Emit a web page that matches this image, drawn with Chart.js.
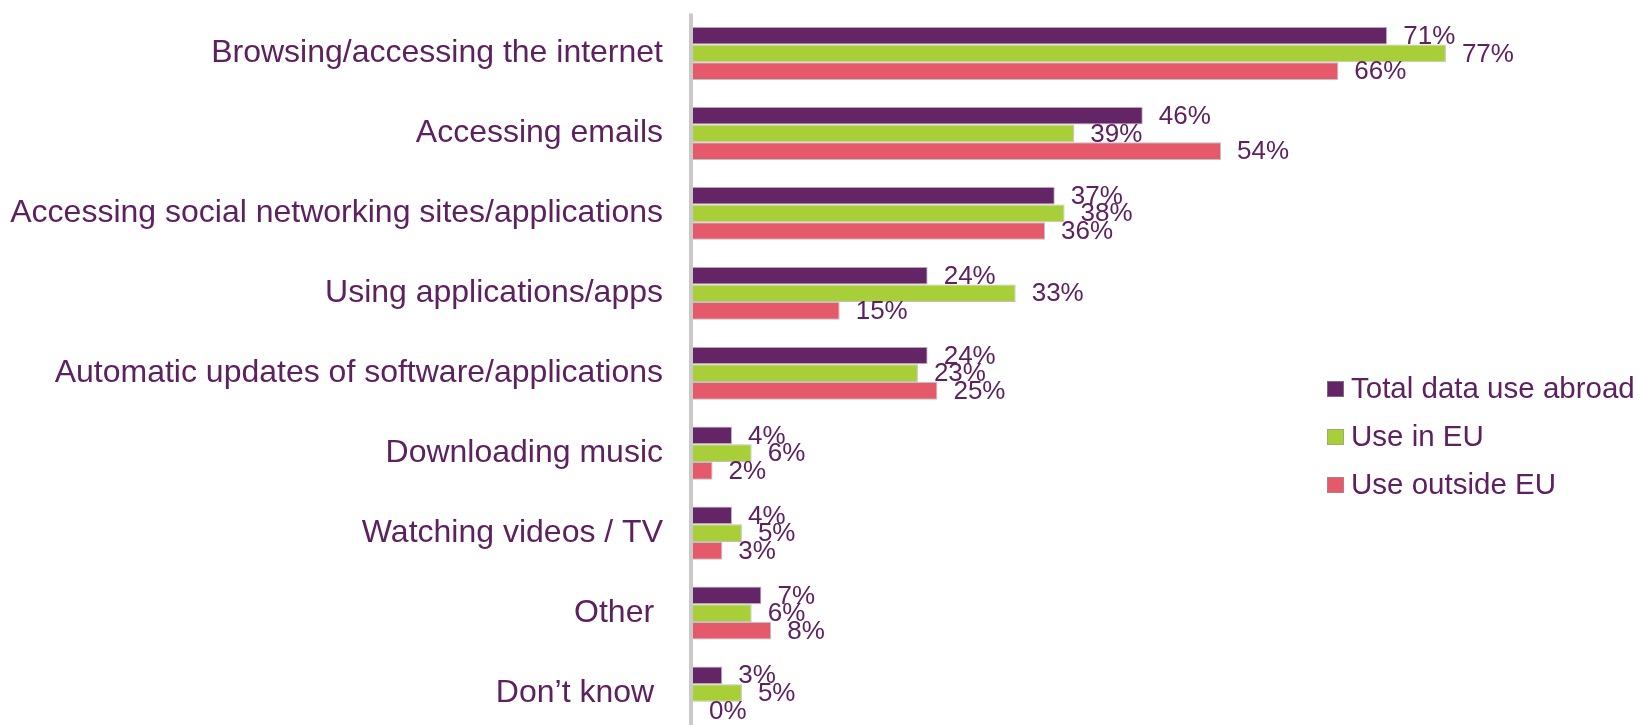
<!DOCTYPE html>
<html>
<head>
<meta charset="utf-8">
<title>Data use abroad</title>
<script src="https://cdn.jsdelivr.net/npm/chart.js@4/dist/chart.umd.min.js"></script>
<style>
  html, body { margin: 0; padding: 0; background: #fff; overflow: hidden; }
  #wrap { position: relative; width: 1639px; height: 733px; }
</style>
</head>
<body>
<div id="wrap"><canvas id="grafico"></canvas></div>
<script>
// categorias e valores (%)
const categorias = [
    'Browsing/accessing the internet',
    'Accessing emails',
    'Accessing social networking sites/applications',
    'Using applications/apps',
    'Automatic updates of software/applications',
    'Downloading music',
    'Watching videos / TV',
    'Other ',
    'Don\u2019t know '
];
const totalAbroad = [71, 46, 37, 24, 24, 4, 4, 7, 3];
const useInEU = [77, 39, 38, 33, 23, 6, 5, 6, 5];
const useOutsideEU = [66, 54, 36, 15, 25, 2, 3, 8, 0];
const nomesSeries = ['Total data use abroad', 'Use in EU', 'Use outside EU'];

const corTexto = '#5e2160';
const cores = ['#632566', '#a9cf38', '#e55a6a'];
const fonte = '"Liberation Sans", Arial, sans-serif';

// linha cinza do eixo vertical
const linhaEixo = {
    id: 'linhaEixo',
    beforeDatasetsDraw(chart) {
        const { ctx, chartArea } = chart;
        ctx.save();
        ctx.strokeStyle = '#c9c9c9';
        ctx.lineWidth = 4;
        ctx.beginPath();
        ctx.moveTo(chartArea.left - 2, chartArea.top);
        ctx.lineTo(chartArea.left - 2, chartArea.bottom);
        ctx.stroke();
        ctx.restore();
    }
};

// rótulos de valor no fim de cada barra
const rotulosValor = {
    id: 'rotulosValor',
    afterDatasetsDraw(chart) {
        const { ctx } = chart;
        ctx.save();
        ctx.font = '26px ' + fonte;
        ctx.fillStyle = corTexto;
        ctx.textAlign = 'left';
        ctx.textBaseline = 'middle';
        chart.data.datasets.forEach((ds, i) => {
            chart.getDatasetMeta(i).data.forEach((barra, j) => {
                ctx.fillText(ds.data[j] + '%', barra.x + 16, barra.y + 1);
            });
        });
        ctx.restore();
    }
};

// legenda desenhada à direita, dentro da área do gráfico
const legenda = {
    id: 'legenda',
    afterDraw(chart) {
        const { ctx } = chart;
        const x = 1327, y0 = 389, passo = 48, lado = 16;
        ctx.save();
        ctx.font = '29.5px ' + fonte;
        ctx.textAlign = 'left';
        ctx.textBaseline = 'middle';
        chart.data.datasets.forEach((ds, i) => {
            const y = y0 + i * passo;
            ctx.fillStyle = ds.backgroundColor;
            ctx.fillRect(x, y - lado / 2, lado + 1, lado);
            ctx.strokeStyle = 'rgba(150,150,150,0.6)';
            ctx.lineWidth = 1;
            ctx.strokeRect(x + 0.5, y - lado / 2 + 0.5, lado, lado - 1);
            ctx.fillStyle = corTexto;
            ctx.fillText(ds.label, x + 24, y + 1);
        });
        ctx.restore();
    }
};

const series = [totalAbroad, useInEU, useOutsideEU];

new Chart(document.getElementById('grafico').getContext('2d'), {
    type: 'bar',
    data: {
        labels: categorias,
        datasets: series.map((valores, i) => ({
            label: nomesSeries[i],
            data: valores,
            backgroundColor: cores[i],
            borderColor: 'rgba(140,140,140,0.55)',
            borderWidth: 1,
            borderSkipped: 'start',
            categoryPercentage: 0.664,
            barPercentage: 1.0
        }))
    },
    options: {
        indexAxis: 'y',
        responsive: true,
        maintainAspectRatio: false,
        animation: false,
        layout: { padding: { top: 13.4, right: 66, bottom: 0, left: 0 } },
        plugins: {
            legend: { display: false },
            tooltip: { enabled: false }
        },
        scales: {
            x: {
                display: false,
                min: 0,
                max: 90
            },
            y: {
                grid: { display: false, drawTicks: false },
                border: { display: false },
                ticks: {
                    color: corTexto,
                    padding: 30,
                    autoSkip: false,
                    font: { family: fonte, size: 32 }
                },
                afterFit(escala) {
                    // largura fixa e sem margem extra em cima/baixo
                    escala.width = 693;
                    escala.paddingTop = 0;
                    escala.paddingBottom = 0;
                }
            }
        }
    },
    plugins: [linhaEixo, rotulosValor, legenda]
});
</script>
</body>
</html>
